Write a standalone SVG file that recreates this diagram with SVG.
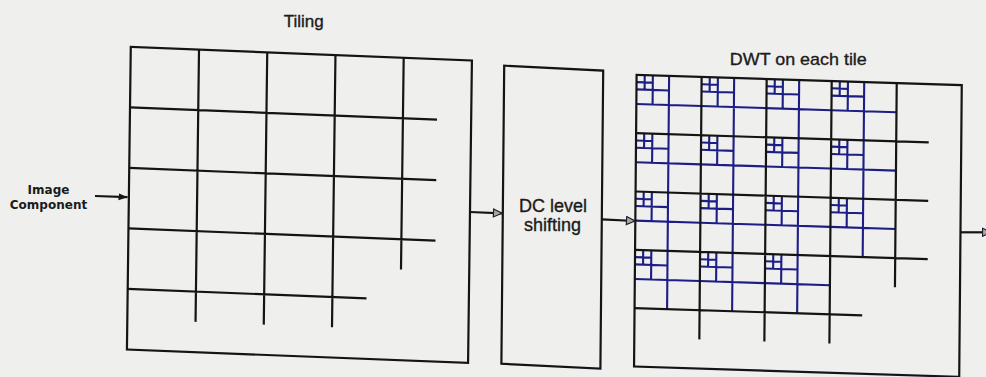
<svg xmlns="http://www.w3.org/2000/svg" xmlns:xlink="http://www.w3.org/1999/xlink" width="986" height="377" viewBox="0 0 986 377">
  <style>
    .k{stroke:#141414;stroke-width:2.2;fill:none}
    .b{stroke:#1d1d86;stroke-width:2.1;fill:none}
    .t{font-family:"Liberation Sans",Arial,sans-serif;fill:#1b1b1b;stroke:#1b1b1b;stroke-width:0.35}
    .lbl{font-family:"DejaVu Sans",Verdana,sans-serif;font-weight:bold;font-size:12px;fill:#1b1b1b;text-anchor:middle}
    .conn{stroke:#141414;stroke-width:2.2;fill:none}
  </style>
  <defs>
    <marker id="ahFill" markerUnits="userSpaceOnUse" markerWidth="10" markerHeight="8" refX="9" refY="4" orient="auto">
      <path d="M0 0.5L9 4L0 7.5z" fill="#161616"/>
    </marker>
    <marker id="ahOpen" markerUnits="userSpaceOnUse" markerWidth="11" markerHeight="10" refX="9.5" refY="5" orient="auto">
      <path d="M1 1L9.5 5L1 9z" fill="#a8a8a8" stroke="#202020" stroke-width="1.2"/>
    </marker>
    <g id="wt" class="b">
      <path d="M32.5 0V58.6M0 29.3H65M16.25 0V29.3M0 14.65H32.5M8.125 0V14.65M0 7.325H16.25"/>
    </g>
  </defs>
  <rect x="0" y="0" width="986" height="377" fill="#efefed"/>

  <g id="input">
    <text class="lbl" x="48.5" y="194">Image</text>
    <text class="lbl" x="48.5" y="209">Component</text>
  </g>

  <g id="tiling">
    <text class="t" x="303.7" y="27" font-size="17" text-anchor="middle">Tiling</text>
    <g transform="matrix(1.0004,0.0396,-0.01262,0.9918,130.78,46.95)">
      <rect class="k" x="0" y="0" width="341" height="305"/>
      <path class="k" d="M0 61H306.9M0 122H306.9M0 183H306.9M0 244H238.7M68.2 0V274.5M136.4 0V274.5M204.6 0V274.5M272.8 0V213.5"/>
    </g>
  </g>

  <g id="dc">
    <g transform="matrix(1,0.05,-0.0094,1,504.2,65.7)">
      <rect class="k" x="0" y="0" width="99" height="298"/>
    </g>
    <text class="t" x="553" y="212" font-size="18" text-anchor="middle">DC level</text>
    <text class="t" x="552.5" y="231" font-size="18" text-anchor="middle">shifting</text>
  </g>

  <g id="dwt">
    <text class="t" x="798.3" y="65" font-size="17" text-anchor="middle" textLength="137" lengthAdjust="spacingAndGlyphs">DWT on each tile</text>
    <g transform="matrix(1.0005,0.03185,-0.0087,0.9954,636.6,74.82)">
      <use xlink:href="#wt" transform="translate(0,0)"/>
      <use xlink:href="#wt" transform="translate(65,0)"/>
      <use xlink:href="#wt" transform="translate(130,0)"/>
      <use xlink:href="#wt" transform="translate(195,0)"/>
      <use xlink:href="#wt" transform="translate(0,58.6)"/>
      <use xlink:href="#wt" transform="translate(65,58.6)"/>
      <use xlink:href="#wt" transform="translate(130,58.6)"/>
      <use xlink:href="#wt" transform="translate(195,58.6)"/>
      <use xlink:href="#wt" transform="translate(0,117.2)"/>
      <use xlink:href="#wt" transform="translate(65,117.2)"/>
      <use xlink:href="#wt" transform="translate(130,117.2)"/>
      <use xlink:href="#wt" transform="translate(195,117.2)"/>
      <use xlink:href="#wt" transform="translate(0,175.8)"/>
      <use xlink:href="#wt" transform="translate(65,175.8)"/>
      <use xlink:href="#wt" transform="translate(130,175.8)"/>
      <rect class="k" x="0" y="0" width="325" height="293"/>
      <path class="k" d="M0 58.6H292.5M0 117.2H292.5M0 175.8H292.5M0 234.4H227.5M65 0V263.7M130 0V263.7M195 0V263.7M260 0V205.1"/>
    </g>
  </g>

  <g id="connectors">
    <path class="conn" d="M95 196L127.5 197.2" marker-end="url(#ahFill)"/>
    <path class="conn" d="M470 212L502 213.3" marker-end="url(#ahOpen)"/>
    <path class="conn" d="M602 219.3L635 221" marker-end="url(#ahOpen)"/>
    <path class="conn" d="M960.5 232.3L991 232.3" marker-end="url(#ahOpen)"/>
  </g>
</svg>
